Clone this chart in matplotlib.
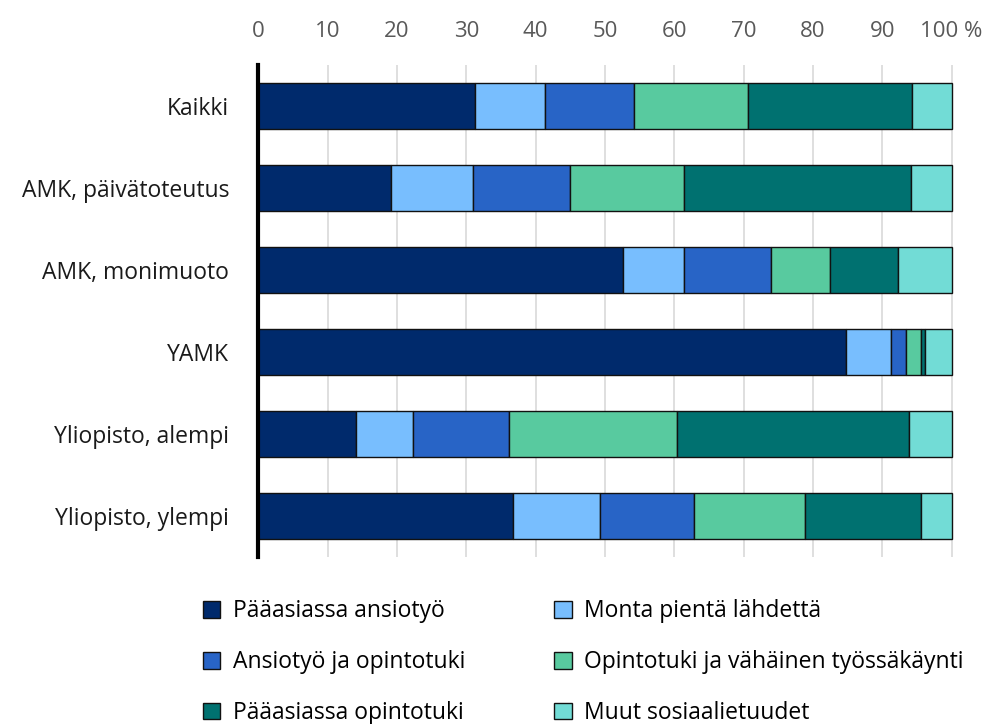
import matplotlib
matplotlib.use("Agg")
import matplotlib.pyplot as plt
from matplotlib.patches import Patch
import numpy as np

categories = ["Kaikki", "AMK, päivätoteutus", "AMK, monimuoto", "YAMK",
              "Yliopisto, alempi", "Yliopisto, ylempi"]
series_names = ["Pääasiassa ansiotyö", "Monta pientä lähdettä", "Ansiotyö ja opintotuki",
                "Opintotuki ja vähäinen työssäkäynti", "Pääasiassa opintotuki", "Muut sosiaalietuudet"]
paaasiassa_ansiotyo = [31.2, 19.1, 52.6, 84.8, 14.1, 36.8]
monta_pienta = [10.2, 11.9, 8.8, 6.5, 8.2, 12.5]
ansiotyo_opintotuki = [12.8, 13.9, 12.5, 2.1, 13.8, 13.6]
opintotuki_vahainen = [16.5, 16.5, 8.6, 2.2, 24.3, 15.9]
paaasiassa_opintotuki = [23.6, 32.7, 9.8, 0.5, 33.5, 16.8]
muut = [5.7, 5.9, 7.7, 3.9, 6.1, 4.4]
xticks = [0, 10, 20, 30, 40, 50, 60, 70, 80, 90, 100]
xticklabels = ["0", "10", "20", "30", "40", "50", "60", "70", "80", "90", "100 %"]

colors = ["#002A6C", "#78BEFE", "#2864C6", "#58CA9F", "#007170", "#72DCD6"]
series = [paaasiassa_ansiotyo, monta_pienta, ansiotyo_opintotuki,
          opintotuki_vahainen, paaasiassa_opintotuki, muut]

plt.rcParams['font.family'] = ['Open Sans', 'DejaVu Sans']

fig = plt.figure(figsize=(9.97, 7.24), dpi=100)
ax = fig.add_axes([0.259, 0.231, 0.699, 0.679])

y = np.arange(len(categories))
left = np.zeros(len(categories))
handles = []
for vals, c, name in zip(series, colors, series_names):
    ax.barh(y, vals, left=left, height=0.56, color=c, edgecolor="#111111", linewidth=1.0, zorder=3)
    left += np.array(vals)
    handles.append(Patch(facecolor=c, edgecolor="#111111", linewidth=1.0, label=name))

ax.set_ylim(len(categories) - 0.5, -0.5)
ax.set_xlim(0, 100.5)
ax.set_yticks(y)
ax.set_yticklabels(categories, fontsize=16.5, color="#1a1a1a")
ax.xaxis.tick_top()
ax.set_xticks(xticks)
ax.set_xticklabels(xticklabels, fontsize=16, color="#595959")
ax.tick_params(axis="both", length=0)
ax.tick_params(axis="x", pad=17)
ax.tick_params(axis="y", pad=21)
ax.grid(axis="x", color="#d9d9d9", linewidth=1.2, zorder=0)
for s in ["top", "right", "bottom"]:
    ax.spines[s].set_visible(False)
ax.spines["left"].set_linewidth(3)
ax.spines["left"].set_color("black")
ax.spines["left"].set_zorder(5)

order = [0, 2, 4, 1, 3, 5]
fig.legend([handles[i] for i in order], [series_names[i] for i in order],
           ncol=2, loc="upper left", bbox_to_anchor=(0.192, 0.188), frameon=False,
           fontsize=16.5, handlelength=0.75, handleheight=0.75, handletextpad=0.55,
           labelspacing=1.17, columnspacing=3.9, borderpad=0)

fig.savefig("out.png", dpi=100)
